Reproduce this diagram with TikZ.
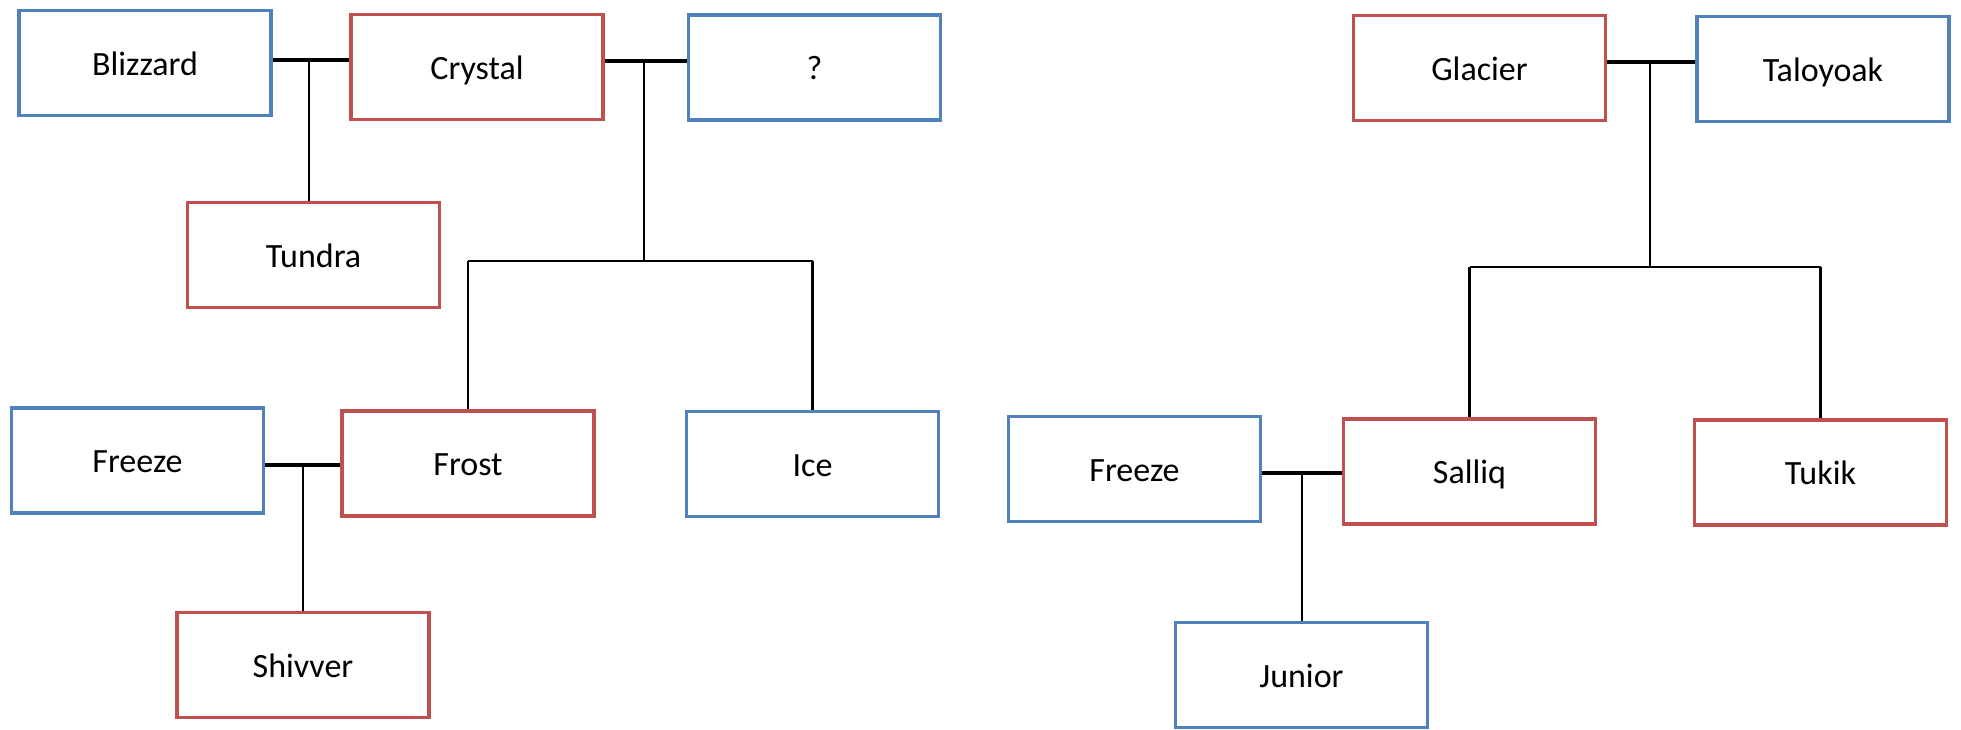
\documentclass[tikz,border=0pt]{standalone}
\usepackage{fontspec}
\setmainfont{Carlito}
\definecolor{boxred}{HTML}{C0504D}
\definecolor{boxblue}{HTML}{4F81BD}
\tikzset{
  person/.style={draw, line width=1.8pt, fill=white, minimum width=126pt, minimum height=52.5pt,
    inner sep=0pt, text height=12pt, text depth=0pt, font=\fontsize{17}{20}\selectfont, text=black},
  fem/.style={person, draw=boxred},
  mal/.style={person, draw=boxblue},
  couple/.style={line width=1.6pt, black},
  kin/.style={line width=1.1pt, black},
}
\begin{document}
\begin{tikzpicture}[x=0.5pt, y=-0.5pt]
\useasboundingbox (0,0) rectangle (1961,729);
% left family
\node[mal] (blizzard) at (145,63) {Blizzard};
\node[fem] (crystal) at (477,67) {Crystal};
\node[mal] (q) at (814.5,67.5) {?};
\node[fem] (tundra) at (313.5,255) {Tundra};
\node[mal] (freezeL) at (137.5,460.5) {Freeze};
\node[fem] (frost) at (468,463.5) {Frost};
\node[mal] (ice) at (812.5,464) {Ice};
\node[fem] (shivver) at (303,665) {Shivver};
% right family
\node[fem] (glacier) at (1479.5,68) {Glacier};
\node[mal] (taloyoak) at (1823,69) {Taloyoak};
\node[mal] (freezeR) at (1134.5,469) {Freeze};
\node[fem] (salliq) at (1469.5,471.5) {Salliq};
\node[fem] (tukik) at (1820.5,472.5) {Tukik};
\node[mal] (junior) at (1301.5,675) {Junior};

% junction coordinates
\coordinate (j1) at (309,60);
\coordinate (j2) at (644,61);
\coordinate (b2) at (644,261);
\coordinate (j3) at (303,465);
\coordinate (j4) at (1650,62);
\coordinate (b4) at (1650,267);
\coordinate (j5) at (1302,473);

% Blizzard + Crystal -> Tundra
\draw[couple] (blizzard.east |- j1) -- (crystal.west |- j1);
\draw[kin] (j1) -- (j1 |- tundra.north);
% Crystal + ? -> Frost, Ice
\draw[couple] (crystal.east |- j2) -- (q.west |- j2);
\draw[kin] (j2) -- (b2);
\draw[kin] (frost.north |- b2) -- (ice.north |- b2);
\draw[kin] (frost.north |- b2) -- (frost.north);
\draw[kin] (ice.north |- b2) -- (ice.north);
% Freeze + Frost -> Shivver
\draw[couple] (freezeL.east |- j3) -- (frost.west |- j3);
\draw[kin] (j3) -- (j3 |- shivver.north);
% Glacier + Taloyoak -> Salliq, Tukik
\draw[couple] (glacier.east |- j4) -- (taloyoak.west |- j4);
\draw[kin] (j4) -- (b4);
\draw[kin] (salliq.north |- b4) -- (tukik.north |- b4);
\draw[kin] (salliq.north |- b4) -- (salliq.north);
\draw[kin] (tukik.north |- b4) -- (tukik.north);
% Freeze + Salliq -> Junior
\draw[couple] (freezeR.east |- j5) -- (salliq.west |- j5);
\draw[kin] (j5) -- (j5 |- junior.north);
\end{tikzpicture}
\end{document}
